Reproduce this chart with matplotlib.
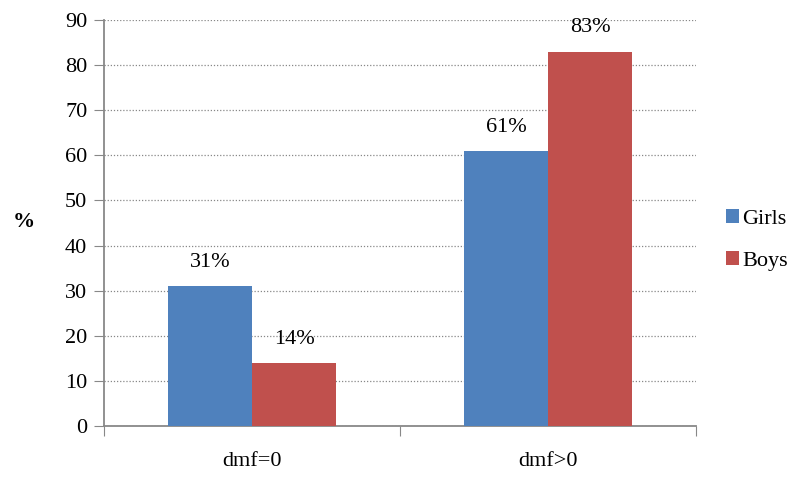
import numpy as np
import matplotlib.pyplot as plt

categories = ['dmf=0', 'dmf>0']
girls = [31, 61]
boys = [14, 83]
series = ['Girls', 'Boys']
colors = ['#4F81BD', '#C0504D']

plt.rcParams['font.family'] = 'Liberation Serif'
fs = 16

fig = plt.figure(figsize=(7.95, 4.79), dpi=100)
ax = fig.add_axes([104/795, 1-426/479, 592/795, 406/479])

x = np.arange(len(categories))
w = 0.284
b1 = ax.bar(x - w/2, girls, w, color=colors[0], label=series[0], zorder=3)
b2 = ax.bar(x + w/2, boys, w, color=colors[1], label=series[1], zorder=3)

for bars, vals in [(b1, girls), (b2, boys)]:
    for r, v in zip(bars, vals):
        ax.annotate('%d%%' % v, (r.get_x() + r.get_width()/2, v),
                    xytext=(0, 17), textcoords='offset points',
                    ha='center', va='center', fontsize=fs)

ax.set_xlim(-0.5, 1.5)
ax.set_ylim(0, 90)
ax.set_yticks(range(0, 91, 10))
ax.yaxis.grid(True, linestyle=(0, (1, 1.5)), color='#888888', linewidth=0.9, zorder=0)

ax.set_xticks([-0.5, 0.5, 1.5])
ax.set_xticklabels([])
ax.set_xticks(x, minor=True)
ax.set_xticklabels(categories, minor=True)
ax.tick_params(axis='x', which='minor', length=0, pad=19, labelsize=fs)
ax.tick_params(axis='x', which='major', length=7, direction='out', color='#888888')
ax.tick_params(axis='y', length=7, direction='out', color='#888888', labelsize=fs, pad=5)

for s in ['top', 'right']:
    ax.spines[s].set_visible(False)
for s in ['left', 'bottom']:
    ax.spines[s].set_color('#888888')
    ax.spines[s].set_linewidth(1.3)

fig.text(24/795, 1-222/479, '%', fontsize=fs, fontweight='bold', ha='center', va='center')

ax.legend(loc='center left', bbox_to_anchor=(1.05, 0.458), frameon=False,
          borderaxespad=0, borderpad=0,
          fontsize=fs, handlelength=0.6, handleheight=0.6, handletextpad=0.15,
          labelspacing=1.0)

fig.savefig('out.png', dpi=100)
